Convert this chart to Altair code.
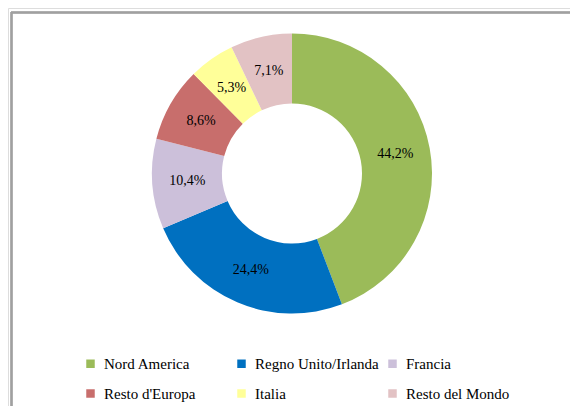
import altair as alt
import pandas as pd

categories = ["Nord America", "Regno Unito/Irlanda", "Francia", "Resto d'Europa", "Italia", "Resto del Mondo"]
values = [44.2, 24.4, 10.4, 8.6, 5.3, 7.1]
labels = ["44,2%", "24,4%", "10,4%", "8,6%", "5,3%", "7,1%"]
colors = ["#9BBB59", "#0070C0", "#CCC0DA", "#C86E6C", "#FFFF99", "#E2C2C4"]

df = pd.DataFrame({"cat": categories, "val": values, "lab": labels, "ord": list(range(len(categories)))})

CX, CY = 284, 165.5
SERIF = "Liberation Serif, Times New Roman, serif"

base = alt.Chart(df).encode(
    theta=alt.Theta("val:Q", stack=True),
    order=alt.Order("ord:Q"),
)

arcs = base.mark_arc(innerRadius=70, outerRadius=140).encode(
    x=alt.value(CX), y=alt.value(CY),
    color=alt.Color(
        "cat:N",
        scale=alt.Scale(domain=categories, range=colors),
        legend=alt.Legend(
            title=None, orient="none", legendX=75, legendY=348,
            direction="horizontal",
            columns=3, gridAlign="all", columnPadding=6, rowPadding=14,
            symbolType="square", symbolSize=72, symbolStrokeWidth=0,
            labelFont=SERIF, labelFontSize=15, labelColor="#000000",
            labelOffset=6, labelLimit=300,
        ),
    ),
)

text = base.mark_text(radius=105, font=SERIF, fontSize=14, color="#000000").encode(
    x=alt.value(CX), y=alt.value(CY),
    text="lab:N",
)

frame_top = alt.Chart(df).mark_rule(color="#A0A0A0", strokeWidth=1.5).encode(
    x=alt.value(3), x2=alt.value(570), y=alt.value(4.5)
)
frame_left = alt.Chart(df).mark_rule(color="#A0A0A0", strokeWidth=1.5).encode(
    x=alt.value(3.5), y=alt.value(4), y2=alt.value(410)
)

chart = alt.layer(arcs, text, frame_top, frame_left).properties(
    width=562, height=398, padding=0, autosize=alt.AutoSizeParams(type="none")
).configure_view(stroke=None).configure(font=SERIF)

chart.save("out.html", embed_options={"renderer": "svg", "actions": False})
